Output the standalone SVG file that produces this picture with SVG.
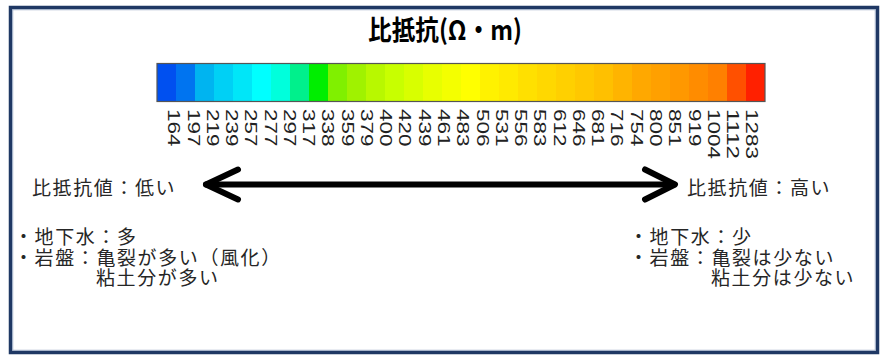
<svg xmlns="http://www.w3.org/2000/svg" width="887" height="363" viewBox="0 0 887 363">
<style>
.t{font-family:"Noto Sans CJK JP","Noto Sans",sans-serif;font-size:19px;fill:#262626;letter-spacing:1.6px}
.n{font-family:"Liberation Sans",Arial,sans-serif;font-size:16px;fill:#222}
.ttl{font-family:"Noto Sans CJK JP","Noto Sans",sans-serif;font-size:27px;font-weight:bold;fill:#000}
.arr{fill:none;stroke:#000;stroke-width:6;stroke-linecap:round;stroke-linejoin:round}
</style>
<rect width="887" height="363" fill="#fff"/>
<g id="frame">
<rect x="10.5" y="7.5" width="867" height="345" fill="none" stroke="#1f3864" stroke-width="3.5"/>
<rect x="12.8" y="9.8" width="862.4" height="340.4" fill="none" stroke="#8fa2be" stroke-width="0.8"/>
</g>
<g id="title">
<text class="ttl" x="445" y="40" text-anchor="middle" textLength="154" lengthAdjust="spacingAndGlyphs">比抵抗(Ω・m)</text>
</g>
<g id="colorbar">
<rect x="157" y="63.5" width="19" height="38" fill="#0050f0"/>
<rect x="176" y="63.5" width="19" height="38" fill="#0074f0"/>
<rect x="195" y="63.5" width="19" height="38" fill="#00b4f0"/>
<rect x="214" y="63.5" width="19" height="38" fill="#00d0f5"/>
<rect x="233" y="63.5" width="19" height="38" fill="#00e6f8"/>
<rect x="252" y="63.5" width="19" height="38" fill="#00ffff"/>
<rect x="271" y="63.5" width="19" height="38" fill="#00ffdc"/>
<rect x="290" y="63.5" width="19" height="38" fill="#00f08c"/>
<rect x="309" y="63.5" width="19" height="38" fill="#00ee00"/>
<rect x="328" y="63.5" width="19" height="38" fill="#80f000"/>
<rect x="347" y="63.5" width="19" height="38" fill="#a0f200"/>
<rect x="366" y="63.5" width="19" height="38" fill="#b8f800"/>
<rect x="385" y="63.5" width="19" height="38" fill="#c8ff00"/>
<rect x="404" y="63.5" width="19" height="38" fill="#d8ff00"/>
<rect x="423" y="63.5" width="19" height="38" fill="#e8ff00"/>
<rect x="442" y="63.5" width="19" height="38" fill="#f4ff00"/>
<rect x="461" y="63.5" width="19" height="38" fill="#ffff00"/>
<rect x="480" y="63.5" width="19" height="38" fill="#fff200"/>
<rect x="499" y="63.5" width="19" height="38" fill="#ffea00"/>
<rect x="518" y="63.5" width="19" height="38" fill="#ffe000"/>
<rect x="537" y="63.5" width="19" height="38" fill="#ffd800"/>
<rect x="556" y="63.5" width="19" height="38" fill="#ffd000"/>
<rect x="575" y="63.5" width="19" height="38" fill="#ffc800"/>
<rect x="594" y="63.5" width="19" height="38" fill="#ffc000"/>
<rect x="613" y="63.5" width="19" height="38" fill="#ffb400"/>
<rect x="632" y="63.5" width="19" height="38" fill="#ffa800"/>
<rect x="651" y="63.5" width="19" height="38" fill="#ffa000"/>
<rect x="670" y="63.5" width="19" height="38" fill="#ff9800"/>
<rect x="689" y="63.5" width="19" height="38" fill="#ff8c00"/>
<rect x="708" y="63.5" width="19" height="38" fill="#ff8000"/>
<rect x="727" y="63.5" width="19" height="38" fill="#ff5000"/>
<rect x="746" y="63.5" width="19" height="38" fill="#ff2000"/>
<rect x="157" y="63.5" width="608" height="38" fill="none" stroke="#555" stroke-width="1.2"/>
</g>
<g id="scale-labels">
<text class="n" transform="translate(174.0,109) rotate(90)" x="0" y="5.7" textLength="37.5" lengthAdjust="spacingAndGlyphs">164</text>
<text class="n" transform="translate(193.3,109) rotate(90)" x="0" y="5.7" textLength="37.5" lengthAdjust="spacingAndGlyphs">197</text>
<text class="n" transform="translate(212.5,109) rotate(90)" x="0" y="5.7" textLength="37.5" lengthAdjust="spacingAndGlyphs">219</text>
<text class="n" transform="translate(231.8,109) rotate(90)" x="0" y="5.7" textLength="37.5" lengthAdjust="spacingAndGlyphs">239</text>
<text class="n" transform="translate(251.1,109) rotate(90)" x="0" y="5.7" textLength="37.5" lengthAdjust="spacingAndGlyphs">257</text>
<text class="n" transform="translate(270.4,109) rotate(90)" x="0" y="5.7" textLength="37.5" lengthAdjust="spacingAndGlyphs">277</text>
<text class="n" transform="translate(289.6,109) rotate(90)" x="0" y="5.7" textLength="37.5" lengthAdjust="spacingAndGlyphs">297</text>
<text class="n" transform="translate(308.9,109) rotate(90)" x="0" y="5.7" textLength="37.5" lengthAdjust="spacingAndGlyphs">317</text>
<text class="n" transform="translate(328.2,109) rotate(90)" x="0" y="5.7" textLength="37.5" lengthAdjust="spacingAndGlyphs">338</text>
<text class="n" transform="translate(347.4,109) rotate(90)" x="0" y="5.7" textLength="37.5" lengthAdjust="spacingAndGlyphs">359</text>
<text class="n" transform="translate(366.7,109) rotate(90)" x="0" y="5.7" textLength="37.5" lengthAdjust="spacingAndGlyphs">379</text>
<text class="n" transform="translate(386.0,109) rotate(90)" x="0" y="5.7" textLength="37.5" lengthAdjust="spacingAndGlyphs">400</text>
<text class="n" transform="translate(405.2,109) rotate(90)" x="0" y="5.7" textLength="37.5" lengthAdjust="spacingAndGlyphs">420</text>
<text class="n" transform="translate(424.5,109) rotate(90)" x="0" y="5.7" textLength="37.5" lengthAdjust="spacingAndGlyphs">439</text>
<text class="n" transform="translate(443.8,109) rotate(90)" x="0" y="5.7" textLength="37.5" lengthAdjust="spacingAndGlyphs">461</text>
<text class="n" transform="translate(463.1,109) rotate(90)" x="0" y="5.7" textLength="37.5" lengthAdjust="spacingAndGlyphs">483</text>
<text class="n" transform="translate(482.3,109) rotate(90)" x="0" y="5.7" textLength="37.5" lengthAdjust="spacingAndGlyphs">506</text>
<text class="n" transform="translate(501.6,109) rotate(90)" x="0" y="5.7" textLength="37.5" lengthAdjust="spacingAndGlyphs">531</text>
<text class="n" transform="translate(520.9,109) rotate(90)" x="0" y="5.7" textLength="37.5" lengthAdjust="spacingAndGlyphs">556</text>
<text class="n" transform="translate(540.1,109) rotate(90)" x="0" y="5.7" textLength="37.5" lengthAdjust="spacingAndGlyphs">583</text>
<text class="n" transform="translate(559.4,109) rotate(90)" x="0" y="5.7" textLength="37.5" lengthAdjust="spacingAndGlyphs">612</text>
<text class="n" transform="translate(578.7,109) rotate(90)" x="0" y="5.7" textLength="37.5" lengthAdjust="spacingAndGlyphs">646</text>
<text class="n" transform="translate(597.9,109) rotate(90)" x="0" y="5.7" textLength="37.5" lengthAdjust="spacingAndGlyphs">681</text>
<text class="n" transform="translate(617.2,109) rotate(90)" x="0" y="5.7" textLength="37.5" lengthAdjust="spacingAndGlyphs">716</text>
<text class="n" transform="translate(636.5,109) rotate(90)" x="0" y="5.7" textLength="37.5" lengthAdjust="spacingAndGlyphs">754</text>
<text class="n" transform="translate(655.8,109) rotate(90)" x="0" y="5.7" textLength="37.5" lengthAdjust="spacingAndGlyphs">800</text>
<text class="n" transform="translate(675.0,109) rotate(90)" x="0" y="5.7" textLength="37.5" lengthAdjust="spacingAndGlyphs">851</text>
<text class="n" transform="translate(694.3,109) rotate(90)" x="0" y="5.7" textLength="37.5" lengthAdjust="spacingAndGlyphs">919</text>
<text class="n" transform="translate(713.6,109) rotate(90)" x="0" y="5.7" textLength="50" lengthAdjust="spacingAndGlyphs">1004</text>
<text class="n" transform="translate(732.8,109) rotate(90)" x="0" y="5.7" textLength="50" lengthAdjust="spacingAndGlyphs">1112</text>
<text class="n" transform="translate(752.1,109) rotate(90)" x="0" y="5.7" textLength="50" lengthAdjust="spacingAndGlyphs">1283</text>
</g>
<g id="connectors">
<line class="arr" x1="206" y1="184.5" x2="674" y2="184.5"/>
<polyline class="arr" points="238,169.5 206,184.5 238,199.5"/>
<polyline class="arr" points="645,169.5 675,184.5 645,199.5"/>
</g>
<g id="low-side">
<text class="t" x="32" y="195">比抵抗値：低い</text>
<text class="t" x="14" y="244">・地下水：多</text>
<text class="t" x="14" y="264.5">・岩盤：亀裂が多い（風化）</text>
<text class="t" x="96" y="285">粘土分が多い</text>
</g>
<g id="high-side">
<text class="t" x="687" y="195">比抵抗値：高い</text>
<text class="t" x="629" y="244">・地下水：少</text>
<text class="t" x="629" y="264.5">・岩盤：亀裂は少ない</text>
<text class="t" x="711" y="285">粘土分は少ない</text>
</g>
</svg>
